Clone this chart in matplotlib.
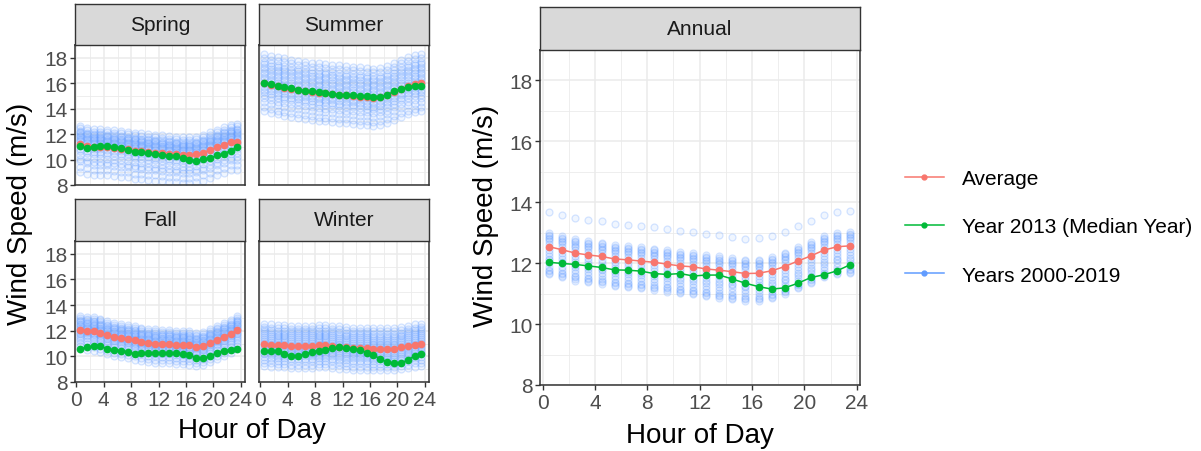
import numpy as np
import matplotlib
matplotlib.use('Agg')
import matplotlib.pyplot as plt
from matplotlib.lines import Line2D
from matplotlib.ticker import MultipleLocator

plt.rcParams['font.family'] = ['Liberation Sans', 'DejaVu Sans']

W, H = 1201, 452

# hour of day (bin centres)
hours = np.arange(0.5, 24, 1.0)

# seasonal averages / median year 2013
spring_avg = [11.25, 11.1, 11.0, 11.0, 10.95, 10.9, 10.85, 10.8, 10.7, 10.65, 10.6, 10.55,
              10.5, 10.45, 10.4, 10.35, 10.35, 10.4, 10.55, 10.75, 10.95, 11.15, 11.35, 11.4]
spring_2013 = [11.03, 10.92, 10.97, 11.03, 11.1, 10.97, 10.92, 10.74, 10.63, 10.58, 10.5, 10.45,
               10.37, 10.29, 10.24, 10.1, 9.97, 9.92, 10.05, 10.1, 10.32, 10.45, 10.71, 10.97]
summer_avg = [16.0, 15.85, 15.75, 15.65, 15.55, 15.45, 15.4, 15.3, 15.25, 15.2, 15.15, 15.1,
              15.05, 15.0, 14.95, 14.9, 14.85, 14.9, 15.05, 15.3, 15.55, 15.75, 15.9, 16.0]
summer_2013 = [16.05, 15.9, 15.8, 15.7, 15.6, 15.5, 15.4, 15.35, 15.3, 15.2, 15.15, 15.1,
               15.05, 15.05, 15.0, 15.0, 14.95, 14.95, 15.1, 15.35, 15.55, 15.7, 15.8, 15.8]
fall_avg = [12.05, 12.0, 11.95, 11.85, 11.65, 11.5, 11.45, 11.35, 11.25, 11.15, 11.05, 11.0,
            10.95, 10.95, 10.9, 10.9, 10.85, 10.75, 10.8, 11.05, 11.3, 11.5, 11.75, 12.05]
fall_2013 = [10.6, 10.7, 10.8, 10.8, 10.6, 10.5, 10.45, 10.35, 10.2, 10.25, 10.25, 10.3,
             10.25, 10.3, 10.25, 10.2, 10.1, 9.9, 9.85, 10.0, 10.3, 10.45, 10.5, 10.6]
winter_avg = [10.95, 10.9, 10.85, 10.85, 10.8, 10.8, 10.8, 10.8, 10.85, 10.85, 10.8, 10.75,
              10.7, 10.65, 10.65, 10.65, 10.6, 10.6, 10.6, 10.6, 10.7, 10.8, 10.9, 10.95]
winter_2013 = [10.4, 10.45, 10.4, 10.2, 10.05, 10.05, 10.2, 10.35, 10.45, 10.5, 10.65, 10.7,
               10.65, 10.6, 10.5, 10.3, 10.1, 9.8, 9.55, 9.45, 9.5, 9.7, 10.05, 10.15]
annual_avg = [12.54, 12.44, 12.33, 12.27, 12.22, 12.14, 12.11, 12.07, 12.03, 11.97, 11.91, 11.88,
              11.81, 11.77, 11.72, 11.66, 11.67, 11.75, 11.89, 12.07, 12.24, 12.43, 12.54, 12.57]
annual_2013 = [12.03, 11.99, 11.96, 11.91, 11.86, 11.78, 11.77, 11.74, 11.66, 11.63, 11.66, 11.58,
               11.61, 11.61, 11.48, 11.34, 11.23, 11.15, 11.19, 11.34, 11.53, 11.62, 11.75, 11.95]

# spread of the 20 individual years (2000-2019) around the average
spring_offsets = [1.4, 1.2, 1.0, 0.9, 0.8, 0.7, 0.6, 0.5, 0.4, 0.3,
                  0.2, 0.0, -0.2, -0.4, -0.6, -0.9, -1.2, -1.4, -1.8, -2.2]
summer_offsets = [2.3, 2.0, 1.7, 1.5, 1.3, 1.1, 0.9, 0.7, 0.5, 0.3,
                  0.1, -0.1, -0.3, -0.5, -0.7, -0.9, -1.2, -1.5, -1.9, -2.2]
fall_offsets = [1.1, 0.95, 0.8, 0.7, 0.6, 0.5, 0.4, 0.3, 0.2, 0.1,
                0.0, -0.1, -0.2, -0.3, -0.45, -0.6, -0.8, -1.0, -1.25, -1.5]
winter_offsets = [1.6, 1.35, 1.15, 1.0, 0.85, 0.7, 0.55, 0.4, 0.25, 0.1,
                  -0.05, -0.2, -0.35, -0.5, -0.65, -0.8, -1.0, -1.2, -1.45, -1.7]
annual_offsets = [1.15, 0.45, 0.4, 0.35, 0.3, 0.25, 0.2, 0.1, 0.0, -0.1,
                  -0.2, -0.3, -0.4, -0.45, -0.55, -0.65, -0.75, -0.8, -0.85, -0.9]

RED = '#F8766D'
GREEN = '#00BA38'
BLUE = '#619CFF'


def box(x0, y0, x1, y1):
    return [x0 / W, 1 - y1 / H, (x1 - x0) / W, (y1 - y0) / H]


fig = plt.figure(figsize=(W / 100, H / 100), dpi=100)


def panel(rect, strip_rect, title, avg, med, offsets, xlim, show_x, show_y, msize):
    ax = fig.add_axes(box(*rect))
    st = fig.add_axes(box(*strip_rect))
    st.set_facecolor('#D9D9D9')
    st.set_xticks([])
    st.set_yticks([])
    for s in st.spines.values():
        s.set_color('#333333')
        s.set_linewidth(1.0)
    st.text(0.5, 0.5, title, ha='center', va='center', fontsize=15, color='#1A1A1A',
            transform=st.transAxes)

    avg = np.array(avg)
    for off in offsets:
        ax.plot(hours, avg + off, 'o', ms=msize, mfc=(0.38, 0.61, 1.0, 0.09),
                mec=(0.38, 0.61, 1.0, 0.25), mew=0.9, zorder=2)
    ax.plot(hours, avg, '-o', color=RED, lw=1.1, ms=4.5, zorder=3)
    ax.plot(hours, med, '-o', color=GREEN, lw=1.1, ms=4.5, zorder=4)

    ax.set_xlim(*xlim)
    ax.set_ylim(8, 19)
    ax.xaxis.set_major_locator(MultipleLocator(4))
    ax.xaxis.set_minor_locator(MultipleLocator(2))
    ax.yaxis.set_major_locator(MultipleLocator(2))
    ax.yaxis.set_minor_locator(MultipleLocator(1))
    ax.grid(which='major', color='#EBEBEB', lw=1.1, zorder=0)
    ax.grid(which='minor', color='#EBEBEB', lw=0.6, zorder=0)
    ax.set_axisbelow(True)
    for s in ax.spines.values():
        s.set_color('#333333')
        s.set_linewidth(1.1)
    ax.tick_params(which='minor', length=0)
    ax.tick_params(which='major', length=3.5, width=1.0, color='#333333',
                   labelsize=15, labelcolor='#4D4D4D', pad=2)
    if not show_x:
        ax.tick_params(axis='x', which='both', bottom=False, labelbottom=False)
    if not show_y:
        ax.tick_params(axis='y', which='both', left=False, labelleft=False)
    return ax


season_xlim = (-0.2, 24.6)
panel((75, 46, 245, 186), (75, 5, 245, 46), 'Spring', spring_avg, spring_2013,
      spring_offsets, season_xlim, False, True, 5)
panel((259, 46, 429, 186), (259, 5, 429, 46), 'Summer', summer_avg, summer_2013,
      summer_offsets, season_xlim, False, False, 5)
panel((75, 242, 245, 383), (75, 200, 245, 242), 'Fall', fall_avg, fall_2013,
      fall_offsets, season_xlim, True, True, 5)
panel((259, 242, 429, 383), (259, 200, 429, 242), 'Winter', winter_avg, winter_2013,
      winter_offsets, season_xlim, True, False, 5)
panel((540, 51, 860, 386), (540, 8, 860, 51), 'Annual', annual_avg, annual_2013,
      annual_offsets, (-0.2, 24.25), True, True, 5)

fig.text(20 / W, 1 - 214 / H, 'Wind Speed (m/s)', rotation=90, ha='center', va='center',
         fontsize=20, color='black')
fig.text(252 / W, 1 - 431 / H, 'Hour of Day', ha='center', va='center', fontsize=20)
fig.text(486 / W, 1 - 216 / H, 'Wind Speed (m/s)', rotation=90, ha='center', va='center',
         fontsize=20, color='black')
fig.text(700 / W, 1 - 436 / H, 'Hour of Day', ha='center', va='center', fontsize=20)

handles = [Line2D([], [], color=RED, marker='o', ms=3.5, lw=1.1),
           Line2D([], [], color=GREEN, marker='o', ms=3.5, lw=1.1),
           Line2D([], [], color=BLUE, marker='o', ms=3.5, lw=1.1)]
labels = ['Average', 'Year 2013 (Median Year)', 'Years 2000-2019']
fig.legend(handles, labels, loc='center left', bbox_to_anchor=(905 / W, 1 - 228 / H),
           frameon=False, fontsize=15, handlelength=1.85, handletextpad=0.9,
           labelspacing=1.4, borderpad=0, borderaxespad=0)

fig.savefig('out.png', dpi=100)
